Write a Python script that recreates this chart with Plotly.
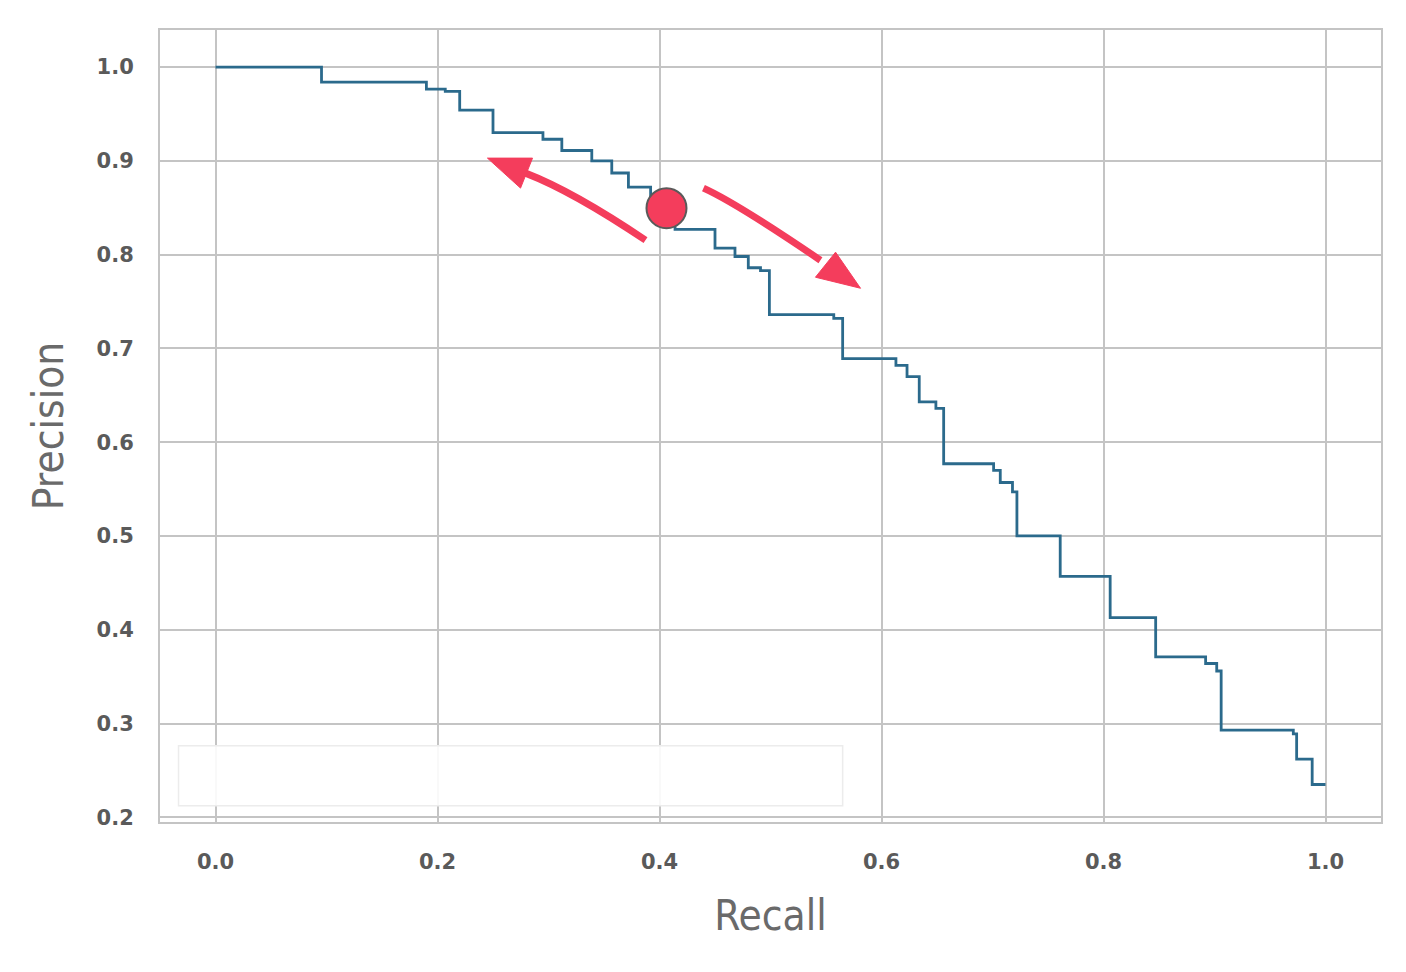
import plotly.graph_objects as go

# Step points of the precision-recall curve (recall where the level starts, precision level)
recall = [0.0, 0.0955, 0.190, 0.207, 0.220, 0.250, 0.295, 0.312, 0.339, 0.357,
          0.372, 0.392, 0.414, 0.450, 0.468, 0.480, 0.491, 0.499, 0.557, 0.565,
          0.613, 0.623, 0.634, 0.649, 0.656, 0.701, 0.707, 0.718, 0.722, 0.761,
          0.806, 0.847, 0.892, 0.902, 0.906, 0.971, 0.974, 0.988, 1.0]
precision = [1.0, 0.984, 0.9765, 0.974, 0.954, 0.930, 0.923, 0.911, 0.900, 0.887,
             0.872, 0.850, 0.827, 0.807, 0.798, 0.786, 0.783, 0.736, 0.732, 0.689,
             0.682, 0.670, 0.643, 0.636, 0.577, 0.570, 0.557, 0.547, 0.500, 0.457,
             0.413, 0.371, 0.364, 0.356, 0.293, 0.289, 0.262, 0.235, 0.235]

# Highlighted threshold point
threshold_recall = [0.4063]
threshold_precision = [0.8495]

x_ticks = [0.0, 0.2, 0.4, 0.6, 0.8, 1.0]
x_tick_labels = ["0.0", "0.2", "0.4", "0.6", "0.8", "1.0"]
y_ticks = [0.2, 0.3, 0.4, 0.5, 0.6, 0.7, 0.8, 0.9, 1.0]
y_tick_labels = ["0.2", "0.3", "0.4", "0.5", "0.6", "0.7", "0.8", "0.9", "1.0"]

RED = "#f43d5c"
GRID = "#c4c4c4"

fig = go.Figure()
fig.add_trace(go.Scatter(
    x=recall, y=precision, mode="lines", line_shape="hv",
    line=dict(color="#2b6a8c", width=2.8), showlegend=False, hoverinfo="skip"))

fig.add_trace(go.Scatter(
    x=threshold_recall, y=threshold_precision, mode="markers",
    marker=dict(size=40, color=RED, line=dict(color="#5a5a5a", width=2)),
    showlegend=False, hoverinfo="skip"))

shapes = []
# empty legend box
shapes.append(dict(type="rect", xref="x", yref="y", x0=-0.0333, x1=0.565, y0=0.2124, y1=0.2764,
                   line=dict(color="#ececec", width=1.5), fillcolor="rgba(255,255,255,0.9)", layer="above"))
# left curved arrow
shapes.append(dict(type="path", xref="x", yref="y",
                   path="M 0.3874 0.8154 Q 0.3222 0.8673 0.2793 0.8869",
                   line=dict(color=RED, width=7)))
shapes.append(dict(type="path", xref="x", yref="y",
                   path="M 0.2450 0.9029 L 0.2856 0.9029 L 0.2748 0.8709 Z",
                   line=dict(color=RED, width=1), fillcolor=RED))
# right curved arrow
shapes.append(dict(type="path", xref="x", yref="y",
                   path="M 0.4396 0.8709 Q 0.4689 0.8553 0.5450 0.7940",
                   line=dict(color=RED, width=7)))
shapes.append(dict(type="path", xref="x", yref="y",
                   path="M 0.5811 0.7641 L 0.5405 0.7759 L 0.5586 0.8026 Z",
                   line=dict(color=RED, width=1), fillcolor=RED))

tick_font = dict(family="DejaVu Sans", size=21, color="#5a5a5a", weight="bold")
title_font = dict(family="DejaVu Sans Condensed, Liberation Sans Narrow, Roboto, Open Sans",
                  size=42, color="#6a6a6a")

fig.update_layout(
    width=1406, height=972,
    margin=dict(l=152, r=33, t=22, b=158),
    paper_bgcolor="white", plot_bgcolor="white",
    shapes=shapes,
    xaxis=dict(range=[-0.05, 1.05], tickvals=x_ticks, ticktext=x_tick_labels,
               showgrid=True, gridcolor=GRID, gridwidth=2, zeroline=False,
               showline=True, linecolor=GRID, linewidth=2, mirror=True,
               ticks="outside", ticklen=20, tickcolor="rgba(0,0,0,0)",
               tickfont=tick_font,
               title=dict(text="Recall", font=title_font, standoff=27)),
    yaxis=dict(range=[0.195, 1.0395], tickvals=y_ticks, ticktext=y_tick_labels,
               showgrid=True, gridcolor=GRID, gridwidth=2, zeroline=False,
               showline=True, linecolor=GRID, linewidth=2, mirror=True,
               ticks="outside", ticklen=20, tickcolor="rgba(0,0,0,0)",
               tickfont=tick_font,
               title=dict(text="Precision", font=title_font, standoff=20)),
)

fig.write_html("out.html")
